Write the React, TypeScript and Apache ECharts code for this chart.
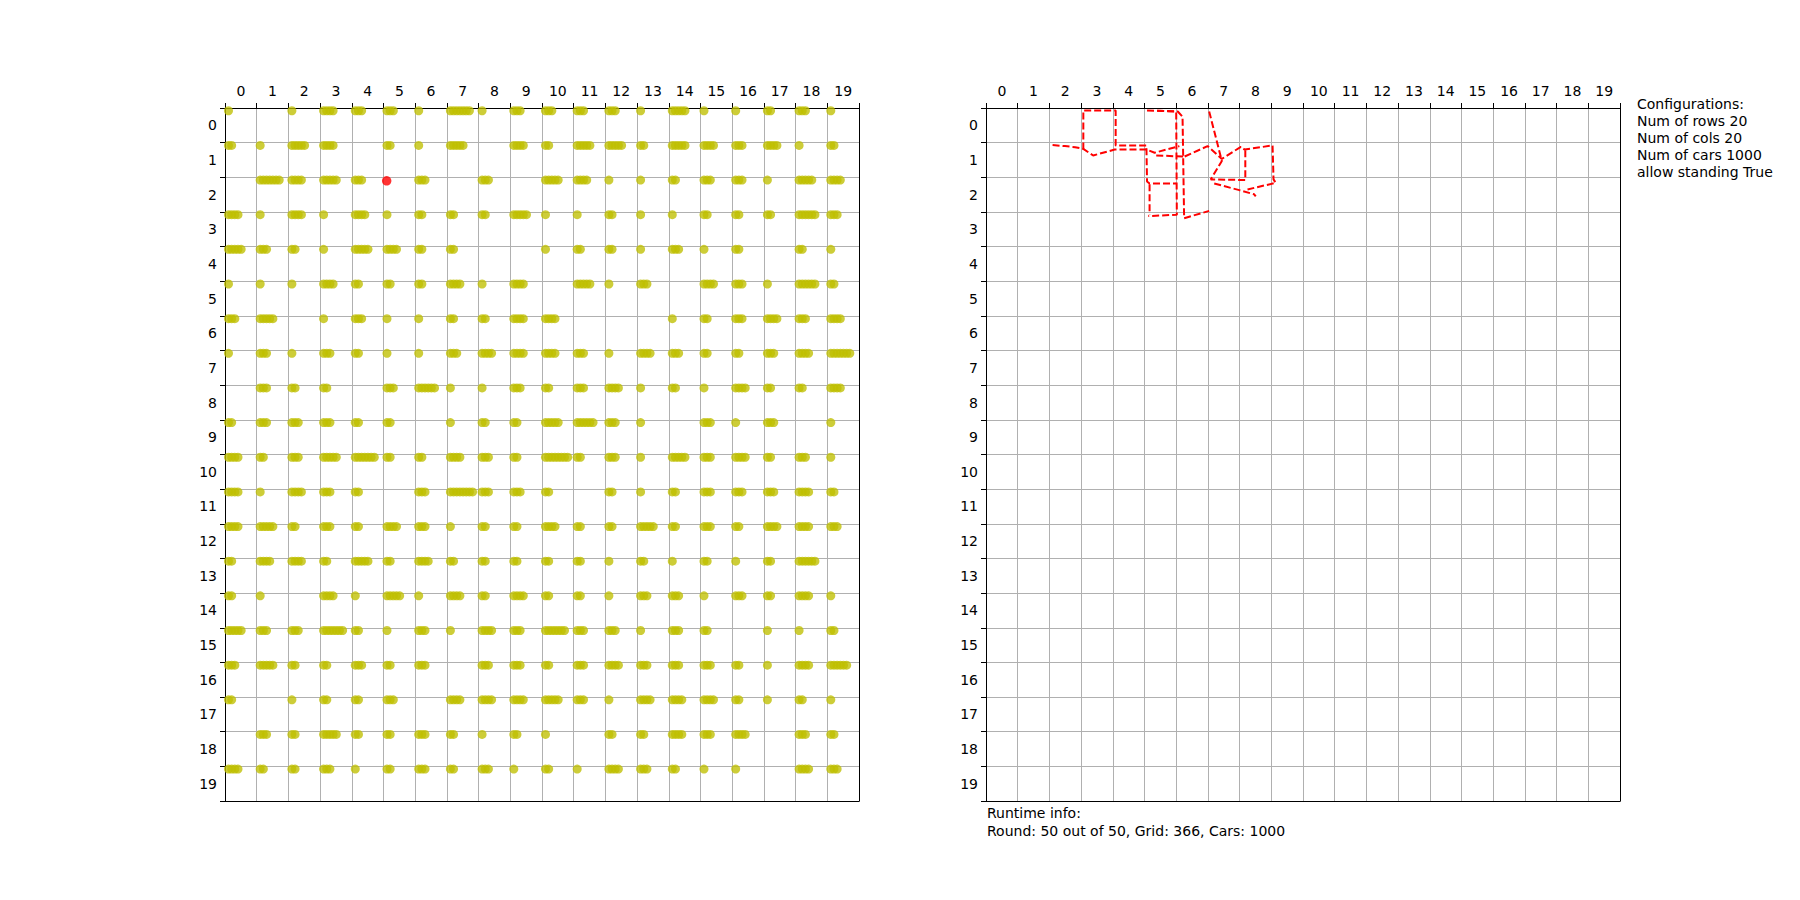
import React, { useEffect, useRef } from 'react';
import * as echarts from 'echarts';

// Tick labels (rows / columns of the city grid)
const tickLabels = ['0', '1', '2', '3', '4', '5', '6', '7', '8', '9', '10', '11', '12', '13', '14', '15', '16', '17', '18', '19'];

// Number of cars standing on each horizontal road segment (row r, starting at column c)
const carsPerRoad: number[][] = [
  [1, 0, 1, 4, 3, 3, 1, 7, 1, 3, 3, 3, 3, 1, 5, 1, 1, 2, 3, 1],
  [2, 1, 5, 4, 0, 2, 1, 5, 0, 4, 2, 5, 5, 2, 5, 4, 3, 4, 1, 2],
  [0, 7, 4, 5, 3, 0, 3, 0, 3, 0, 5, 4, 1, 1, 2, 3, 3, 1, 5, 4],
  [4, 1, 4, 1, 4, 1, 2, 2, 2, 5, 1, 1, 2, 1, 1, 2, 2, 2, 6, 3],
  [5, 3, 2, 1, 5, 4, 2, 2, 0, 0, 1, 2, 2, 1, 3, 1, 2, 0, 2, 1],
  [1, 1, 1, 4, 2, 2, 2, 4, 1, 4, 0, 5, 1, 3, 0, 4, 3, 1, 6, 2],
  [3, 5, 0, 1, 3, 1, 1, 2, 2, 4, 4, 0, 0, 0, 1, 2, 3, 4, 3, 4],
  [1, 3, 1, 3, 2, 1, 1, 3, 4, 4, 4, 3, 1, 4, 3, 2, 2, 3, 4, 7],
  [0, 3, 2, 2, 0, 3, 6, 1, 1, 3, 2, 3, 4, 1, 2, 1, 4, 2, 2, 4],
  [2, 3, 3, 3, 2, 2, 0, 1, 2, 2, 5, 6, 3, 1, 0, 3, 1, 3, 0, 1],
  [4, 2, 3, 5, 7, 2, 2, 4, 3, 2, 8, 2, 3, 1, 5, 3, 4, 2, 3, 1],
  [4, 1, 4, 3, 2, 0, 3, 8, 3, 3, 2, 0, 2, 1, 2, 3, 3, 3, 4, 2],
  [4, 5, 2, 3, 2, 4, 3, 1, 2, 2, 4, 2, 2, 5, 2, 3, 2, 4, 4, 3],
  [2, 4, 4, 2, 5, 2, 4, 2, 2, 2, 2, 2, 1, 2, 1, 2, 1, 2, 6, 0],
  [2, 1, 0, 4, 1, 5, 1, 4, 2, 4, 2, 2, 1, 3, 3, 1, 3, 2, 4, 1],
  [5, 3, 3, 7, 2, 1, 3, 1, 4, 3, 7, 3, 3, 1, 3, 2, 0, 1, 1, 2],
  [3, 5, 2, 2, 3, 2, 3, 0, 3, 3, 2, 3, 4, 3, 3, 3, 2, 1, 4, 6],
  [2, 0, 1, 2, 2, 3, 0, 4, 4, 4, 5, 3, 1, 4, 4, 4, 2, 1, 2, 1],
  [0, 3, 2, 5, 2, 2, 3, 2, 1, 2, 1, 0, 2, 2, 4, 3, 4, 0, 3, 2],
  [4, 2, 2, 3, 1, 2, 3, 2, 3, 1, 2, 1, 4, 3, 2, 1, 1, 0, 4, 3],
];

// The tracked car (red), in grid coordinates
const trackedCar: [number, number] = [4.6, 1.6];

// Route of the tracked car over the rounds (pieces of the dashed trail)
const routeStrokes: [number, number][][] = [
  [[1.6, 0.57], [1.99, 0.6], [2.31, 0.63], [2.57, 0.68], [2.88, 0.87], [3.56, 0.7], [4.56, 0.7], [4.82, 0.79], [5.6, 0.6]],
  [[2.57, 0.7], [2.57, -0.43], [3.59, -0.43], [3.59, 0.58], [4.56, 0.58], [4.58, 1.62], [4.66, 1.68], [5.5, 1.68]],
  [[4.66, 1.7], [4.66, 2.57]],
  [[4.58, -0.43], [5.55, -0.4], [5.7, -0.25], [5.72, 0.92], [6.49, 0.6], [6.94, 0.97], [7.54, 0.62], [7.66, 0.7], [8.54, 0.58], [8.57, 1.56], [8.64, 1.66], [7.75, 1.85]],
  [[6.54, -0.4], [6.94, 1.03], [6.59, 1.56], [7.68, 1.58], [7.68, 0.72]],
  [[6.7, 1.68], [7.49, 1.87], [7.96, 1.99], [8.01, 2.05]],
  [[4.87, 0.87], [5.72, 0.9]],
  [[4.9, -0.42], [5.5, -0.4], [5.52, 2.58], [4.62, 2.62]],
  [[5.72, 0.95], [5.75, 2.68], [6.54, 2.47]],
];

const configLines = ['Configurations:', 'Num of rows 20', 'Num of cols 20', 'Num of cars 1000', 'allow standing True'];
const runtimeLines = ['Runtime info:', 'Round: 50 out of 50, Grid: 366, Cars: 1000'];

const FONT = 'DejaVu Sans';
const CAR_X0 = 0.11;
const CAR_STEP = 0.1;
const CAR_DY = 0.08;

function buildCars(): [number, number][] {
  const pts: [number, number][] = [];
  carsPerRoad.forEach((row, r) => {
    row.forEach((n, c) => {
      for (let k = 0; k < n; k++) {
        pts.push([c - 0.5 + CAR_X0 + CAR_STEP * k, r - 0.5 + CAR_DY]);
      }
    });
  });
  return pts;
}

const grids = [
  { left: 225, top: 108, width: 634, height: 693 },
  { left: 986, top: 108, width: 634, height: 693 },
];

function catX(gi: number) {
  return {
    type: 'category', gridIndex: gi, position: 'top', data: tickLabels, boundaryGap: true,
    axisLine: { show: true, onZero: false, lineStyle: { color: '#000', width: 1 } },
    axisTick: { show: true, alignWithLabel: false, interval: 0, length: 5, lineStyle: { color: '#000' } },
    axisLabel: { show: true, interval: 0, color: '#000', fontSize: 14, fontFamily: FONT, margin: 10 },
    splitLine: { show: true, interval: 0, lineStyle: { color: '#b0b0b0', width: 1 } },
  };
}
function valX(gi: number) {
  return {
    type: 'value', gridIndex: gi, position: 'bottom', min: -0.5, max: 19.5,
    axisLine: { show: true, onZero: false, lineStyle: { color: '#000', width: 1 } },
    axisTick: { show: false }, axisLabel: { show: false }, splitLine: { show: false },
  };
}
function catY(gi: number) {
  return {
    type: 'category', gridIndex: gi, position: 'left', inverse: true, data: tickLabels, boundaryGap: true,
    axisLine: { show: true, onZero: false, lineStyle: { color: '#000', width: 1 } },
    axisTick: { show: true, alignWithLabel: false, interval: 0, length: 5, lineStyle: { color: '#000' } },
    axisLabel: { show: true, interval: 0, color: '#000', fontSize: 14, fontFamily: FONT, margin: 8 },
    splitLine: { show: true, interval: 0, lineStyle: { color: '#b0b0b0', width: 1 } },
  };
}
function valY(gi: number) {
  return {
    type: 'value', gridIndex: gi, position: 'right', inverse: true, min: -0.5, max: 19.5,
    axisLine: { show: true, onZero: false, lineStyle: { color: '#000', width: 1 } },
    axisTick: { show: false }, axisLabel: { show: false }, splitLine: { show: false },
  };
}

export default function App() {
  const ref = useRef<HTMLDivElement>(null);
  useEffect(() => {
    if (!ref.current) return;
    const chart = echarts.init(ref.current, undefined, { renderer: 'svg' });
    const routeSeries = routeStrokes.map((s, i) => ({
      type: 'line', name: 'route' + i, xAxisIndex: 3, yAxisIndex: 3, data: s,
      showSymbol: false, symbol: 'none', clip: true, z: 5,
      lineStyle: { color: '#ff0000', width: 2, type: [7, 3] },
    }));
    chart.setOption({
      animation: false,
      backgroundColor: '#ffffff',
      textStyle: { fontFamily: FONT },
      grid: grids,
      xAxis: [catX(0), valX(0), catX(1), valX(1)],
      yAxis: [catY(0), valY(0), catY(1), valY(1)],
      series: [
        {
          type: 'scatter', name: 'cars', xAxisIndex: 1, yAxisIndex: 1, data: buildCars(),
          symbol: 'circle', symbolSize: 9, clip: true, z: 3,
          itemStyle: { color: '#bfbf00', opacity: 0.78 },
        },
        {
          type: 'scatter', name: 'tracked', xAxisIndex: 1, yAxisIndex: 1, data: [trackedCar],
          symbol: 'circle', symbolSize: 9.5, clip: true, z: 4,
          itemStyle: { color: '#ff0000', opacity: 0.8 },
        },
        ...routeSeries,
      ],
      graphic: [
        {
          type: 'text', x: 1637, y: 95,
          style: { text: configLines.join('\n'), fontSize: 14, fontFamily: FONT, lineHeight: 17, fill: '#000', verticalAlign: 'top', align: 'left' },
        },
        {
          type: 'text', x: 987, y: 804.5,
          style: { text: runtimeLines.join('\n'), fontSize: 14, fontFamily: FONT, lineHeight: 17.6, fill: '#000', verticalAlign: 'top', align: 'left' },
        },
      ],
    });
    return () => chart.dispose();
  }, []);
  return (
    <div
      ref={ref}
      style={{ position: 'fixed', left: 0, top: 0, width: '1800px', height: '900px', background: '#fff' }}
    />
  );
}
